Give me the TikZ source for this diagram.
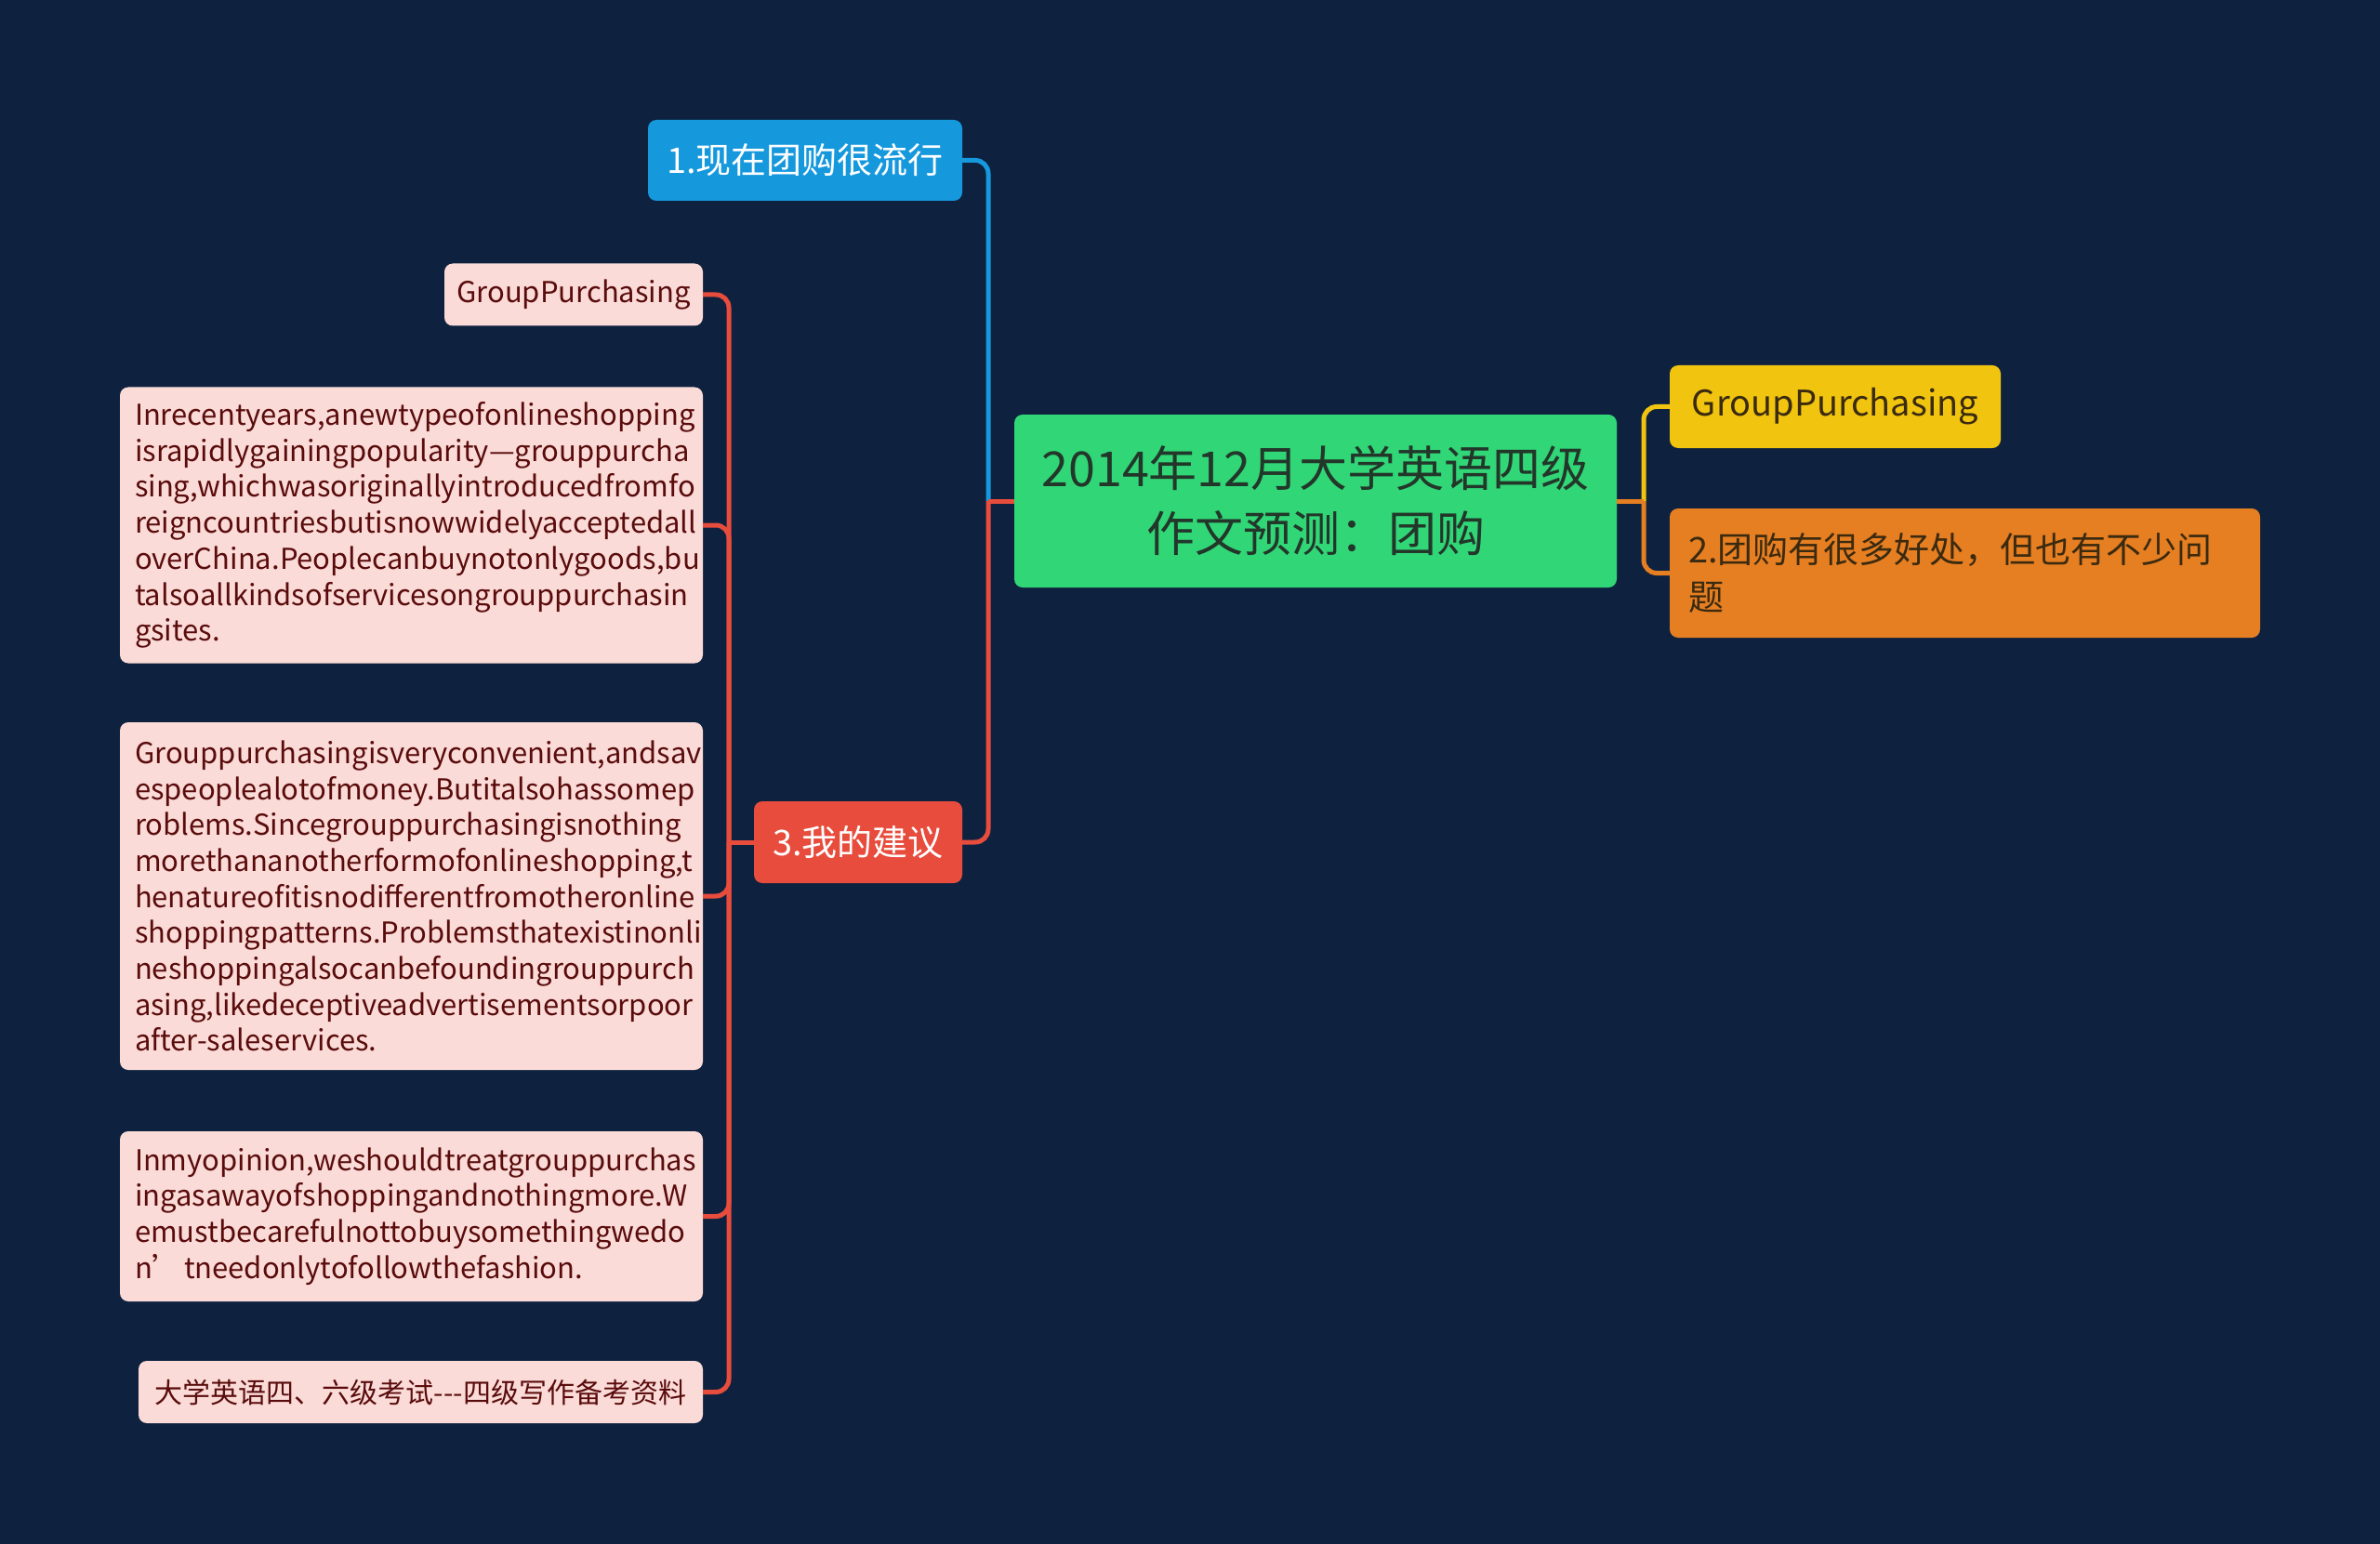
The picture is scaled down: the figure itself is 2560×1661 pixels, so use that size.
\documentclass[tikz,border=0pt]{standalone}
\usepackage{fontspec}
\setmainfont{Noto Sans CJK SC}[Ligatures=TeXOff]
\definecolor{bg}{HTML}{0E2240}
\definecolor{cblue}{HTML}{1698DD}
\definecolor{cred}{HTML}{E74C3C}
\definecolor{cgreen}{HTML}{31D677}
\definecolor{cyellow}{HTML}{F1C40F}
\definecolor{corange}{HTML}{E67E22}
\definecolor{cpink}{HTML}{FADBD8}
\definecolor{tmaroon}{HTML}{5A0C0C}
\definecolor{tdark}{HTML}{23362A}
\definecolor{tbrown}{HTML}{3A2A10}
\tikzset{
  x=1pt, y=-1pt,
  box/.style={rounded corners=9pt, inner sep=0pt, outer sep=0pt},
  leafbox/.style={box, fill=cpink, text=tmaroon, align=left,
     font=\fontsize{31}{38.7}\selectfont},
  link/.style={line width=5pt, rounded corners=14pt},
}
\begin{document}
\begin{tikzpicture}
\fill[bg] (0,0) rectangle (2560,1661);
\useasboundingbox (0,0) rectangle (2560,1661);

% root
\node[box, fill=cgreen, text=tdark, minimum width=648pt, minimum height=186pt,
  align=center, font=\fontsize{52}{70}\selectfont] (root) at (1415,539)
  {2014年12月大学英语四级\\作文预测：团购};

% first level
\node[box, fill=cblue, text=white, minimum width=338pt, minimum height=87pt,
  font=\fontsize{38}{46}\selectfont] (n1) at (866,172.5) {1.现在团购很流行};
\node[box, fill=cred, text=white, minimum width=224pt, minimum height=88pt,
  font=\fontsize{38}{46}\selectfont] (n3) at (923,906) {3.我的建议};
\node[box, fill=cyellow, text=tbrown, minimum width=356pt, minimum height=89pt,
  font=\fontsize{38}{46}\selectfont] (ny) at (1974,437.5) {GroupPurchasing};
\node[box, fill=corange, text=tbrown, minimum height=139pt, inner xsep=20pt,
  text width=595pt, align=left, font=\fontsize{38}{51}\selectfont] (n2) at (2113.5,616.5)
  {2.团购有很多好处，但也有不少问\\题};

% left leaves
\node[leafbox, minimum width=278pt, minimum height=67pt, align=center] (l1) at (617,317) {GroupPurchasing};
\node[leafbox, inner xsep=16pt, text width=595pt, minimum height=297pt] (l2) at (442.5,565)
  {\mbox{Inrecentyears,anewtypeofonlineshopping}\\
   \mbox{israpidlygainingpopularity—grouppurcha}\\
   \mbox{sing,whichwasoriginallyintroducedfromfo}\\
   \mbox{reigncountriesbutisnowwidelyacceptedall}\\
   \mbox{overChina.Peoplecanbuynotonlygoods,bu}\\
   \mbox{talsoallkindsofservicesongrouppurchasin}\\
   \mbox{gsites.}};
\node[leafbox, inner xsep=16pt, text width=595pt, minimum height=374pt] (l3) at (442.5,964)
  {\mbox{Grouppurchasingisveryconvenient,andsav}\\
   \mbox{espeoplealotofmoney.Butitalsohassomep}\\
   \mbox{roblems.Sincegrouppurchasingisnothing}\\
   \mbox{morethananotherformofonlineshopping,t}\\
   \mbox{henatureofitisnodifferentfromotheronline}\\
   \mbox{shoppingpatterns.Problemsthatexistinonli}\\
   \mbox{neshoppingalsocanbefoundingrouppurch}\\
   \mbox{asing,likedeceptiveadvertisementsorpoor}\\
   \mbox{after-saleservices.}};
\node[leafbox, inner xsep=16pt, text width=595pt, minimum height=183pt] (l4) at (442.5,1308.5)
  {\mbox{Inmyopinion,weshouldtreatgrouppurchas}\\
   \mbox{ingasawayofshoppingandnothingmore.W}\\
   \mbox{emustbecarefulnottobuysomethingwedo}\\
   \mbox{n’\hspace{0.1em}tneedonlytofollowthefashion.}};
\node[leafbox, minimum width=607pt, minimum height=67pt, align=center,
  font=\fontsize{30}{38}\selectfont] (l5) at (452.5,1497.5)
  {大学英语四、六级考试---四级写作备考资料};

% junction coordinates
\coordinate (jl) at (1063,539);
\coordinate (jr) at (1768,539);
\coordinate (jx) at (784,906);

% connectors root -> left
\draw[link, cblue] (jl) |- (n1.east);
\draw[link, cred] (jl) |- (n3.east);
\draw[line width=5pt, cred] (root.west) -- (jl);

% connectors root -> right
\draw[link, cyellow] (jr) |- (ny.west);
\draw[link, corange] (jr) |- (n2.west);
\draw[line width=5pt, corange] (root.east) -- (jr);

% connectors n3 -> leaves
\draw[line width=5pt, cred] (n3.west) -- (jx);
\foreach \t in {l1,l2,l3,l4,l5}{
  \draw[link, cred] (jx) |- (\t.east);
}
\end{tikzpicture}
\end{document}
